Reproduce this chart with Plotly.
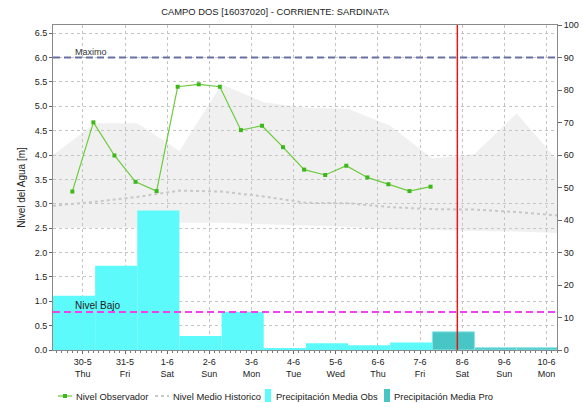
import plotly.graph_objects as go

# ---------------- data ----------------
obs_time = ["2019-05-29 18:00", "2019-05-30 06:00", "2019-05-30 18:00", "2019-05-31 06:00",
            "2019-05-31 18:00", "2019-06-01 06:00", "2019-06-01 18:00", "2019-06-02 06:00",
            "2019-06-02 18:00", "2019-06-03 06:00", "2019-06-03 18:00", "2019-06-04 06:00",
            "2019-06-04 18:00", "2019-06-05 06:00", "2019-06-05 18:00", "2019-06-06 06:00",
            "2019-06-06 18:00", "2019-06-07 06:00"]
obs_level = [3.25, 4.67, 3.99, 3.45, 3.26, 5.40, 5.45, 5.40, 4.51, 4.60, 4.16, 3.70,
             3.59, 3.78, 3.54, 3.40, 3.26, 3.35]

hist_time = ["2019-05-29 07:00", "2019-05-30 07:00", "2019-05-31 07:00", "2019-06-01 07:00",
             "2019-06-02 07:00", "2019-06-03 07:00", "2019-06-04 07:00", "2019-06-05 07:00",
             "2019-06-06 07:00", "2019-06-07 07:00", "2019-06-08 07:00", "2019-06-09 07:00",
             "2019-06-10 07:00"]
hist_max = [4.00, 4.65, 4.65, 4.08, 5.45, 5.08, 4.97, 4.95, 4.60, 3.93, 4.02, 4.85, 3.86]
hist_mean = [2.96, 3.04, 3.14, 3.27, 3.25, 3.15, 3.02, 3.01, 2.93, 2.89, 2.88, 2.83, 2.76]
hist_min = [2.51, 2.51, 2.51, 2.61, 2.61, 2.58, 2.55, 2.53, 2.47, 2.46, 2.45, 2.43, 2.40]

precip_obs_time = ["2019-05-29 07:00", "2019-05-30 07:00", "2019-05-31 07:00", "2019-06-01 07:00",
                   "2019-06-02 07:00", "2019-06-03 07:00", "2019-06-04 07:00", "2019-06-05 07:00",
                   "2019-06-06 07:00"]
precip_obs = [16.7, 25.9, 42.9, 4.3, 11.7, 0.5, 2.1, 1.5, 2.3]
precip_pro_time = ["2019-06-07 07:00", "2019-06-08 07:00", "2019-06-09 07:00"]
precip_pro = [5.6, 0.7, 0.7]

tick_dates = ["2019-05-30", "2019-05-31", "2019-06-01", "2019-06-02", "2019-06-03", "2019-06-04",
              "2019-06-05", "2019-06-06", "2019-06-07", "2019-06-08", "2019-06-09", "2019-06-10"]
tick_labels = ["30-5<br>Thu", "31-5<br>Fri", "1-6<br>Sat", "2-6<br>Sun", "3-6<br>Mon", "4-6<br>Tue",
               "5-6<br>Wed", "6-6<br>Thu", "7-6<br>Fri", "8-6<br>Sat", "9-6<br>Sun", "10-6<br>Mon"]

legend_names = ["Nivel Observador", "Nivel Medio Historico",
                "Precipitación Media Obs", "Precipitación Media Pro"]

nivel_maximo = 6.0
nivel_bajo = 0.78
now_time = "2019-06-07 21:15"
x_range = ["2019-05-29 07:00", "2019-06-10 06:00"]

# ---------------- style ----------------
DAY_MS = 86400000
FONT = "Liberation Sans"
W, H = 583, 403
ML, MR, MT, MB = 53, 26, 25, 53
PW, PH = W - ML - MR, H - MT - MB

C_OBS = "#6CCB3C"
C_OBS_MK = "#3DB81A"
C_MEAN = "#C8C8C8"
C_PR_OBS = "#5CFAFA"
C_PR_PRO = "#48C6C6"


def px_x(px):
    return (px - ML) / PW


def px_y(py):
    return (H - MB - py) / PH


fig = go.Figure()

# historic band
fig.add_trace(go.Scatter(x=hist_time, y=hist_min, mode="lines", line=dict(width=0, color="rgba(0,0,0,0)"),
                         showlegend=False, hoverinfo="skip"))
fig.add_trace(go.Scatter(x=hist_time, y=hist_max, mode="lines", line=dict(width=0, color="rgba(0,0,0,0)"),
                         fill="tonexty", fillcolor="rgba(200,200,200,0.28)", showlegend=False, hoverinfo="skip"))
# historic mean
fig.add_trace(go.Scatter(x=hist_time, y=hist_mean, mode="lines", name=legend_names[1],
                         line=dict(color=C_MEAN, width=2, dash="dot"), showlegend=False))
# observed level
fig.add_trace(go.Scatter(x=obs_time, y=obs_level, mode="lines+markers", name=legend_names[0],
                         line=dict(color=C_OBS, width=1.2),
                         marker=dict(symbol="square", size=4, color=C_OBS_MK), showlegend=False))
# precipitation bars
fig.add_trace(go.Bar(x=precip_obs_time, y=precip_obs, yaxis="y2", name=legend_names[2],
                     width=DAY_MS, offset=0, marker=dict(color=C_PR_OBS, line=dict(width=0)),
                     showlegend=False))
fig.add_trace(go.Bar(x=precip_pro_time, y=precip_pro, yaxis="y2", name=legend_names[3],
                     width=DAY_MS, offset=0, marker=dict(color=C_PR_PRO, line=dict(width=1, color="#8EE6E6")),
                     showlegend=False))

shapes = [
    dict(type="line", xref="paper", x0=0, x1=1, yref="y", y0=nivel_maximo, y1=nivel_maximo,
         line=dict(color="#6870A6", width=2, dash="7px,4px"), layer="above"),
    dict(type="line", xref="paper", x0=0, x1=1, yref="y", y0=nivel_bajo, y1=nivel_bajo,
         line=dict(color="#F040F0", width=2, dash="7px,4px"), layer="above"),
    dict(type="line", xref="x", x0=now_time, x1=now_time, yref="paper", y0=0, y1=1,
         line=dict(color="#E01818", width=1.5), layer="above"),
]

annotations = [
    dict(text="Maximo", xref="paper", x=0.04, yref="y", y=nivel_maximo, xanchor="left", yanchor="bottom",
         showarrow=False, font=dict(family=FONT, size=9, color="#333333"), yshift=-1),
    dict(text="Nivel Bajo", xref="paper", x=0.04, yref="y", y=nivel_bajo, xanchor="left", yanchor="bottom",
         showarrow=False, font=dict(family=FONT, size=10, color="#222222"), yshift=-1),
]

# ---------------- legend (drawn like the original: compact symbols) ----------------
LY = 396
ly = px_y(LY)
# item 1: line with square marker
shapes.append(dict(type="line", xref="paper", yref="paper", x0=px_x(58), x1=px_x(72), y0=ly, y1=ly,
                   line=dict(color=C_OBS, width=1.2)))
shapes.append(dict(type="rect", xref="paper", yref="paper", x0=px_x(63), x1=px_x(67),
                   y0=px_y(398), y1=px_y(394), line=dict(width=0), fillcolor=C_OBS_MK))
# item 2: dotted grey line
shapes.append(dict(type="line", xref="paper", yref="paper", x0=px_x(155), x1=px_x(169), y0=ly, y1=ly,
                   line=dict(color=C_MEAN, width=2, dash="3px,3px")))
# item 3/4: boxes
shapes.append(dict(type="rect", xref="paper", yref="paper", x0=px_x(265), x1=px_x(271),
                   y0=px_y(402), y1=px_y(389), line=dict(width=0), fillcolor=C_PR_OBS))
shapes.append(dict(type="rect", xref="paper", yref="paper", x0=px_x(384), x1=px_x(390),
                   y0=px_y(402), y1=px_y(389), line=dict(width=0), fillcolor=C_PR_PRO))
for name, tx in zip(legend_names, [74, 171, 274, 392]):
    annotations.append(dict(text=name, xref="paper", yref="paper", x=px_x(tx), y=ly, xanchor="left",
                            yanchor="middle", showarrow=False,
                            font=dict(family=FONT, size=9.4, color="#222222")))

axis_common = dict(showline=True, linecolor="#8A8A8A", linewidth=1, ticks="outside", tickcolor="#666666",
                   tickfont=dict(family=FONT, size=9, color="#222222"), zeroline=False, automargin=False)

fig.update_layout(
    width=W, height=H,
    margin=dict(l=ML, r=MR, t=MT, b=MB, autoexpand=False),
    paper_bgcolor="white", plot_bgcolor="white",
    barmode="overlay",
    showlegend=False,
    font=dict(family=FONT, size=10, color="#222222"),
    title=dict(text="CAMPO DOS [16037020] - CORRIENTE: SARDINATA", x=0.472, xref="container",
               xanchor="center", y=0.97, yref="container", yanchor="middle",
               font=dict(family=FONT, size=9.4, color="#222222")),
    xaxis=dict(type="date", range=x_range, tickvals=tick_dates, ticktext=tick_labels, ticklen=3,
               showgrid=True, gridcolor="#C4C4C4", griddash="dot", gridwidth=1, mirror=True,
               minor=dict(dtick=3 * 3600 * 1000, tick0="2019-05-30", ticks="outside", ticklen=2,
                          tickcolor="#777777", showgrid=False),
               **axis_common),
    yaxis=dict(range=[0, 6.6667], dtick=0.5, tick0=0, tickformat=".1f", ticklen=3,
               showgrid=True, gridcolor="#C4C4C4", griddash="dot", gridwidth=1, mirror=True,
               title=dict(text="Nivel del Agua [m]", font=dict(family=FONT, size=10, color="#222222"),
                          standoff=7),
               **axis_common),
    yaxis2=dict(overlaying="y", side="right", range=[0, 100], dtick=10, tick0=0, ticklen=4,
                showgrid=False, **axis_common),
    shapes=shapes,
    annotations=annotations,
)

fig.write_html("out.html", config={"displayModeBar": False},
               post_script="document.body.style.margin='0px';")
